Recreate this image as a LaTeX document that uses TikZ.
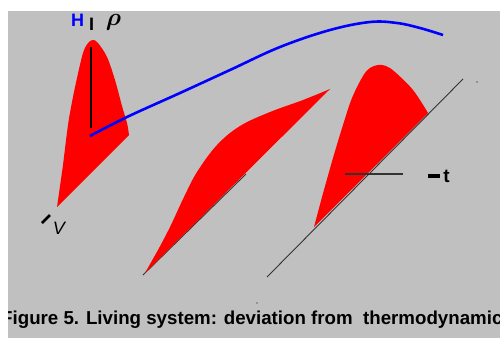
\documentclass[tikz,border=0pt]{standalone}
\usepackage{fontspec}
\setmainfont{Liberation Sans}
\begin{document}
\begin{tikzpicture}[x=1pt,y=-1pt,
  redfill/.style={fill=red},
  axisline/.style={draw=black!80,line width=0.9pt},
  bluecurve/.style={draw=blue,line width=2.6pt},
  lbl/.style={inner sep=0pt,font=\fontsize{18}{20}\selectfont}]
\useasboundingbox (0,0) rectangle (500,338);
\fill[white] (0,0) rectangle (500,338);
\fill[fill={rgb,255:red,192;green,192;blue,192}] (8,11) rectangle (500,338);
% first shape
\fill[redfill] (57,207) -- plot[smooth,tension=0.55] coordinates {(63,165)(68,125)(72,102)(77,78)(83,53)(88,43)(93,40)(98,43)(107,57)(115,80)(122,106)(127,123)(129,135)} -- cycle;
\draw[black,line width=1.3pt] (91,47) -- (91,128);
% second shape
\draw[axisline] (143,275) -- (246,174);
\fill[redfill] (145,273) -- plot[smooth,tension=0.6] coordinates {(158,250)(170,227)(184,197)(197,172)(217,145)(240,126)(270,112)(303,100)(330,89)} -- cycle;
% third shape
\fill[redfill] (314,227) -- plot[smooth,tension=0.6] coordinates {(322,197)(333,158)(343,125)(352,98)(363,76)(370,68)(378,65)(386,66)(395,72)(413,90)(428,113)} -- cycle;
\draw[axisline] (267,277) -- (463,79);
\draw[black!80,line width=1.4pt] (345,174) -- (403,174);
% blue curve
\draw[bluecurve] plot[smooth,tension=0.6] coordinates {(90,136)(127,117)(180,93)(230,70)(280,47)(330,30)(370,22)(397,23)(420,28)(443,35)};
% labels
\node[lbl,text=blue,font=\fontsize{18}{20}\selectfont\bfseries] (H) at (77.5,20.5) {H};
\node[lbl,font=\fontsize{18}{20}\selectfont\bfseries] (I) at (91.5,24.5) {I};
\node[lbl,font=\fontsize{24}{26}\selectfont\boldmath] (rho) at (113.5,22) {$\rho$};
\node[lbl,font=\fontsize{18}{20}\selectfont\itshape] (V) at (59,228.5) {V};
\draw[black,line width=2.6pt] (50,215) -- (42,223);
\node[lbl,anchor=west,font=\fontsize{19}{20}\selectfont\bfseries] (t) at (428,176) {\rule[0.22em]{12pt}{3.6pt}\,t};
% dots
\fill[black] (477,82) circle (0.7);
\fill[black] (257,303) circle (0.7);
% caption
\begin{scope}
\clip (8,11) rectangle (500,338);
\node[lbl,anchor=base west,font=\fontsize{18.7}{20}\selectfont\bfseries] (cap) at (1,324) {Figure 5. Living system: deviation from~~thermodynamic};
\end{scope}
\end{tikzpicture}
\end{document}
